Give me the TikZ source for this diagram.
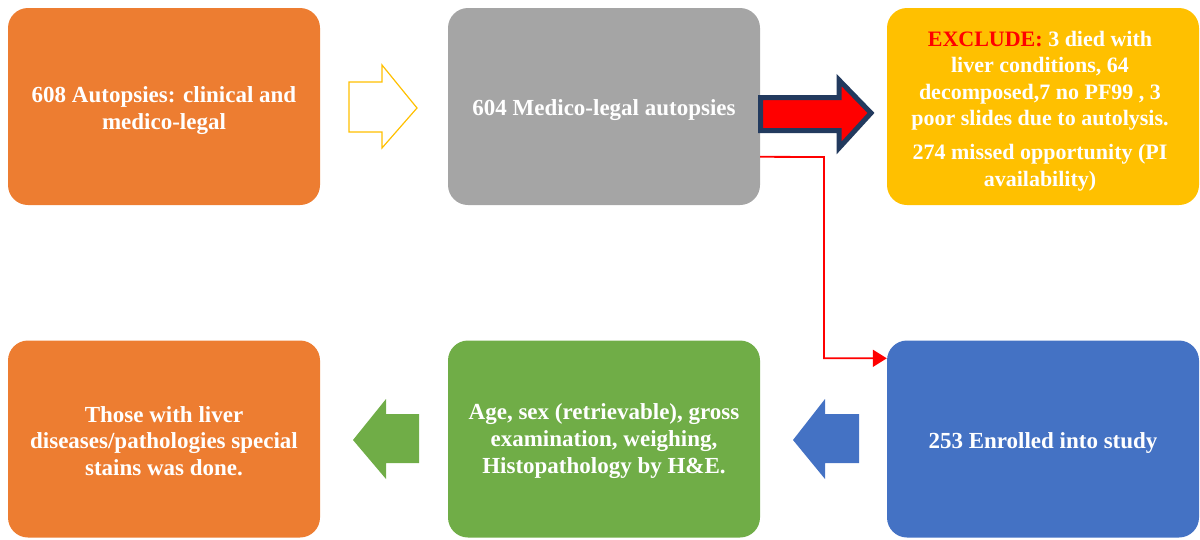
\documentclass[tikz,border=0pt]{standalone}
\usepackage{fontspec}
\setmainfont{Liberation Serif}
\usetikzlibrary{arrows.meta,calc}
\definecolor{cOrange}{HTML}{ED7D31}
\definecolor{cGray}{HTML}{A5A5A5}
\definecolor{cYellow}{HTML}{FFC000}
\definecolor{cGreen}{HTML}{70AD47}
\definecolor{cBlue}{HTML}{4472C4}
\definecolor{cNavy}{HTML}{223A5E}
\definecolor{cRed}{HTML}{FF0000}
\begin{document}
\begin{tikzpicture}[x=1pt,y=-1pt,
  box/.style={rounded corners=20pt, draw=none, minimum width=312pt, minimum height=197pt,
    inner sep=0pt},
  txt/.style={inner sep=0pt, align=center, text=white,
    font=\bfseries\fontsize{23}{26.6}\selectfont},
  txtsmall/.style={txt, font=\bfseries\fontsize{22}{26.4}\selectfont},
  conn/.style={draw=cRed, line width=1.8pt, -{Triangle[length=14pt,width=17pt]}},
  hollowarrow/.style={draw=cYellow, line width=1.2pt, fill=white},
  redarrow/.style={draw=cNavy, line width=5pt, fill=cRed, line join=miter}
]
\useasboundingbox (0,0) rectangle (1200,539);
\node[box, fill=cOrange] (b1) at (164,106.5) {};
\node[box, fill=cGray] (b2) at (604,106.5) {};
\node[box, fill=cYellow] (b3) at (1043,106.5) {};
\node[box, fill=cOrange] (b4) at (164,439) {};
\node[box, fill=cGreen] (b5) at (604,439) {};
\node[box, fill=cBlue] (b6) at (1043,439) {};
\node[txt] (t1) at ($(b1.center)+(0,4)$) {608 Autopsies: clinical and\\medico-legal};
\node[txt] (t2) at ($(b2.center)+(0,4)$) {604 Medico-legal autopsies};
\node[txtsmall] (t3) at ($(b3.center)+(-3,4.5)$) {\textcolor{cRed}{EXCLUDE:} 3 died with\\liver conditions, 64\\decomposed,7 no PF99 , 3\\poor slides due to autolysis.\\[8pt]274 missed opportunity (PI\\availability)};
\node[txt] (t4) at ($(b4.center)+(0,2)$) {Those with liver\\diseases/pathologies special\\stains was done.};
\node[txt] (t5) at ($(b5.center)+(0,2)$) {Age, sex (retrievable), gross\\examination, weighing,\\Histopathology by H\&E.};
\node[txt] (t6) at ($(b6.center)+(0,4)$) {253 Enrolled into study};
% block arrows
\draw[hollowarrow] (349,82) -- (382,82) -- (382,65) -- (417,108) -- (382,148) -- (382,132) -- (349,132) -- cycle;
\draw[redarrow] (760.5,97.5) -- (839,97.5) -- (839,80) -- (871,113) -- (839,148) -- (839,130.5) -- (760.5,130.5) -- cycle;
\fill[cGreen] (419,414) -- (386,414) -- (386,399) -- (353,440) -- (386,479) -- (386,463) -- (419,463) -- cycle;
\fill[cBlue] (859,414) -- (825,414) -- (825,399) -- (793,440) -- (825,479) -- (825,463) -- (859,463) -- cycle;
% connector
\coordinate (c1) at ($(b2.north east)+(0,149)$);
\coordinate (c2) at ($(b6.north west)+(0,18)$);
\draw[conn] (c1) -- (824,157) |- (c2);
\end{tikzpicture}
\end{document}
